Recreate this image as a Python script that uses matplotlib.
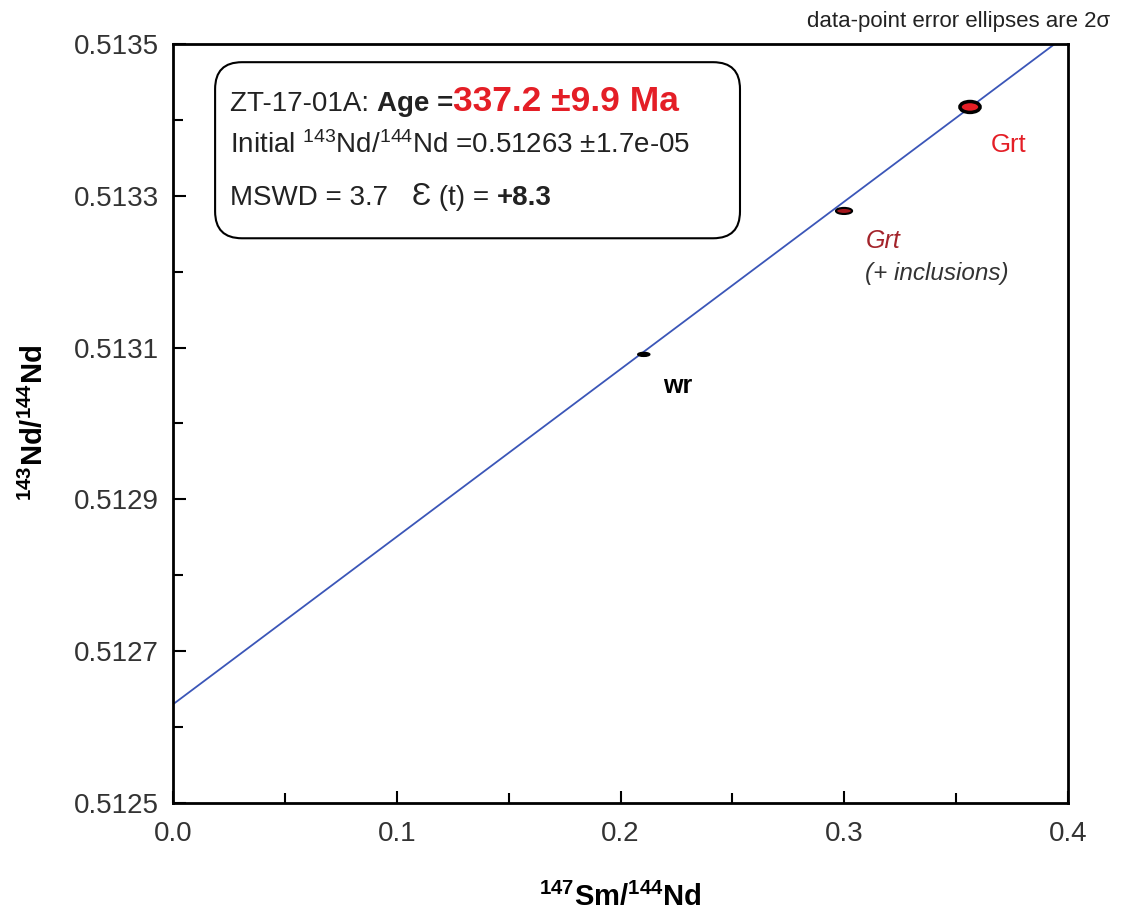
import numpy as np
import matplotlib
matplotlib.use("Agg")
import matplotlib.pyplot as plt
from matplotlib.patches import Ellipse, FancyBboxPatch

plt.rcParams['font.family'] = ['Liberation Sans', 'DejaVu Sans']
plt.rcParams['mathtext.fontset'] = 'custom'
plt.rcParams['mathtext.rm'] = 'Liberation Sans'
plt.rcParams['mathtext.it'] = 'Liberation Sans:italic'
plt.rcParams['mathtext.bf'] = 'Liberation Sans:bold'

# data points (147Sm/144Nd, 143Nd/144Nd) with 2-sigma half-widths
labels = ["wr", "Grt (+ inclusions)", "Grt"]
sm_nd = [0.2104, 0.2999, 0.3562]
nd_nd = [0.513091, 0.513280, 0.513417]
sm_err = [0.0027, 0.0036, 0.0045]
nd_err = [2.6e-6, 4.0e-6, 7.2e-6]
fill_colors = ["black", "#a3161c", "#e41e26"]
edge_widths = [1.0, 1.5, 2.5]

# isochron result
sample = "ZT-17-01A"
age_ma = 337.2
age_err = 9.9
initial_ratio = 0.51263
initial_err = 1.7e-05
mswd = 3.7
eps_t = 8.3
decay_const = 6.54e-12

x_ticks = [0.0, 0.1, 0.2, 0.3, 0.4]
y_ticks = [0.5125, 0.5127, 0.5129, 0.5131, 0.5133, 0.5135]

fig = plt.figure(figsize=(11.28, 9.16), dpi=100)
ax = fig.add_axes([0.1534, 0.1234, 0.7934, 0.8286])

# isochron line
slope = np.exp(decay_const * age_ma * 1e6) - 1
line_x = np.array([0.0, 0.4])
ax.plot(line_x, initial_ratio + slope * line_x, color="#3b56b8", lw=1.3, zorder=2)

# error ellipses
for x, y, ex, ey, fc, lw in zip(sm_nd, nd_nd, sm_err, nd_err, fill_colors, edge_widths):
    ax.add_patch(Ellipse((x, y), 2 * ex, 2 * ey, facecolor=fc, edgecolor="black",
                         lw=lw, zorder=3))

ax.set_xlim(0.0, 0.4)
ax.set_ylim(0.5125, 0.5135)
ax.set_xticks(x_ticks)
ax.set_xticklabels([f"{v:.1f}" for v in x_ticks])
ax.set_yticks(y_ticks)
ax.set_yticklabels([f"{v:.4f}" for v in y_ticks])
ax.set_xticks(np.arange(0.05, 0.4, 0.1), minor=True)
ax.set_yticks(np.arange(0.5126, 0.5135, 0.0002), minor=True)
ax.tick_params(which="both", direction="in", labelsize=20, width=1.5, pad=10,
               colors="black", labelcolor="#333333")
ax.tick_params(axis="x", which="major", pad=13)
ax.tick_params(which="major", length=9)
ax.tick_params(which="minor", length=7)
for sp in ax.spines.values():
    sp.set_linewidth(2.0)

ax.set_xlabel(r"$\mathbf{^{147}Sm/^{144}Nd}$", fontsize=21, labelpad=26)
ax.set_ylabel(r"$\mathbf{^{143}Nd/^{144}Nd}$", fontsize=21, labelpad=18)

# point labels
ax.text(sm_nd[0] + 0.0085, nd_nd[0] - 0.000042, "wr", fontsize=18, fontweight="bold",
        va="center", ha="left")
ax.text(sm_nd[1] + 0.0095, nd_nd[1] - 0.000040, "Grt", fontsize=18, style="italic",
        color="#a3232a", va="center", ha="left")
ax.text(sm_nd[1] + 0.0095, nd_nd[1] - 0.000082, "(+ inclusions)", fontsize=17.5,
        style="italic", color="#333333", va="center", ha="left")
ax.text(sm_nd[2] + 0.0095, nd_nd[2] - 0.000050, "Grt", fontsize=18.5,
        color="#e41e26", va="center", ha="left")

# result box
box = FancyBboxPatch((0.047, 0.744), 0.5865, 0.232,
                     boxstyle="round,pad=0,rounding_size=0.03",
                     mutation_aspect=895 / 759, transform=ax.transAxes,
                     facecolor="white", edgecolor="black", lw=1.5, zorder=4)
ax.add_patch(box)

fig.canvas.draw()
renderer = fig.canvas.get_renderer()


def write_line(x, y, pieces):
    # place text pieces one after another in axes fraction coordinates
    for txt, kw in pieces:
        t = ax.text(x, y, txt, transform=ax.transAxes, va="baseline", ha="left",
                    zorder=5, **kw)
        bb = t.get_window_extent(renderer=renderer)
        x = ax.transAxes.inverted().transform((bb.x1, bb.y0))[0]


write_line(0.064, 0.912, [
    (f"{sample}: ", dict(fontsize=20, color="#222222")),
    ("Age =", dict(fontsize=20, fontweight="bold", color="#222222")),
    (f"{age_ma:.1f} ±{age_err:.1f} Ma", dict(fontsize=25.5, fontweight="bold",
                                            color="#e41e26")),
])
write_line(0.064, 0.856, [
    ("Initial $^{143}$Nd/$^{144}$Nd =" + f"{initial_ratio:.5f} ±{initial_err:.1e}",
     dict(fontsize=20, color="#222222")),
])
write_line(0.064, 0.788, [
    (f"MSWD = {mswd:.1f}   ", dict(fontsize=20, color="#222222")),
    ("Ɛ", dict(fontsize=23, color="#222222")),
    (" (t) = ", dict(fontsize=20, color="#222222")),
    (f"+{eps_t:.1f}", dict(fontsize=20, fontweight="bold", color="#222222")),
])

fig.text(0.984, 0.976, "data-point error ellipses are 2σ", fontsize=16,
         ha="right", va="center", color="#222222")

fig.savefig("out.png", dpi=100)
